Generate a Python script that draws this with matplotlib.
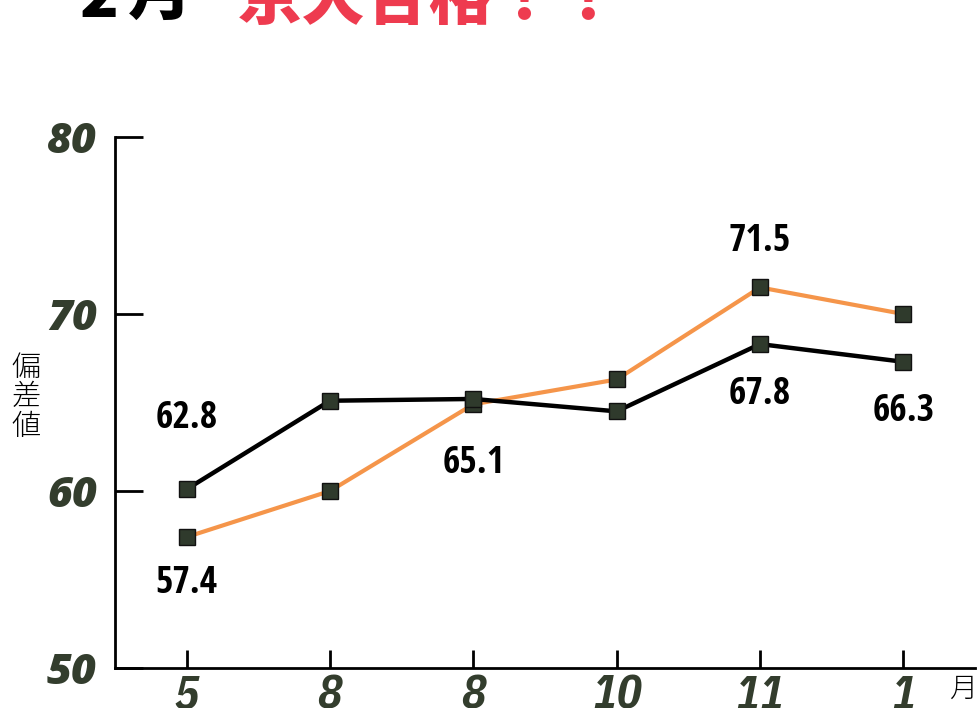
import matplotlib
matplotlib.use("Agg")
import matplotlib.pyplot as plt

plt.rcParams['font.family'] = ['Noto Sans CJK JP', 'DejaVu Sans']

categories = ["5", "8", "8", "10", "11", "1"]
black_values = [60.1, 65.1, 65.2, 64.5, 68.3, 67.3]
orange_values = [57.4, 60.0, 64.9, 66.3, 71.5, 70.0]
annotations = [(0, 64.1, "62.8"), (0, 54.8, "57.4"), (2, 61.6, "65.1"),
               (4, 74.1, "71.5"), (4, 65.5, "67.8"), (5, 64.5, "66.3")]
yticks = [50, 60, 70, 80]

W, H = 979, 708
fig = plt.figure(figsize=(W / 100, H / 100), dpi=100)
ax = fig.add_axes([115 / W, 1 - 668 / H, (975 - 115) / W, (668 - 137) / H])

x = list(range(len(categories)))
ax.plot(x, orange_values, color='#f5954a', lw=3.0, zorder=2)
ax.plot(x, black_values, color='#000000', lw=3.2, zorder=3)
ax.plot(x, orange_values, ls='none', marker='s', ms=11, mfc='#2f3a2c', mec='#111111', mew=1, zorder=4)
ax.plot(x, black_values, ls='none', marker='s', ms=11, mfc='#2f3a2c', mec='#111111', mew=1, zorder=5)

for xi, yi, t in annotations:
    ax.text(xi, yi, t, ha='center', va='center', fontsize=27, fontweight='bold',
            family='Open Sans Condensed', color='#000000', zorder=6)

ax.set_xlim(-0.5, 5.5)
ax.set_ylim(50, 80)
ax.set_yticks(yticks)
ax.set_xticks(x)
ax.set_xticklabels(categories)
for s in ['top', 'right']:
    ax.spines[s].set_visible(False)
for s in ['left', 'bottom']:
    ax.spines[s].set_linewidth(2)
ax.tick_params(axis='y', direction='in', length=20, width=2, pad=13)
ax.tick_params(axis='x', direction='in', length=13, width=2, pad=5)
for lab in ax.get_yticklabels():
    lab.set_fontfamily('Open Sans')
    lab.set_fontweight(800)
    lab.set_fontstyle('italic')
    lab.set_fontsize(31)
    lab.set_color('#333d2d')
for lab in ax.get_xticklabels():
    lab.set_fontfamily('IBM Plex Sans Condensed')
    lab.set_fontweight('bold')
    lab.set_fontstyle('italic')
    lab.set_fontsize(33)
    lab.set_color('#333d2d')

fig.text(26 / W, 1 - 397 / H, "偏\n差\n値", ha='center', va='center', fontsize=21,
         linespacing=0.95, fontweight='light', color='#000000')
fig.text(963 / W, 1 - 689 / H, "月", ha='center', va='center', fontsize=20,
         fontweight='light', color='#000000')

fig.text(80 / W, 1 - 17 / H, "2", ha='left', va='baseline', fontsize=46,
         fontweight='black', color='#000000')
fig.text(128 / W, 1 - 14 / H, "月", ha='left', va='baseline', fontsize=46,
         fontweight='black', color='#000000')
fig.text(238 / W, 1 - 19 / H, "京大合格！！", ha='left', va='baseline', fontsize=46,
         fontweight='black', color='#ee3b4f')

fig.savefig("out.png", dpi=100)
